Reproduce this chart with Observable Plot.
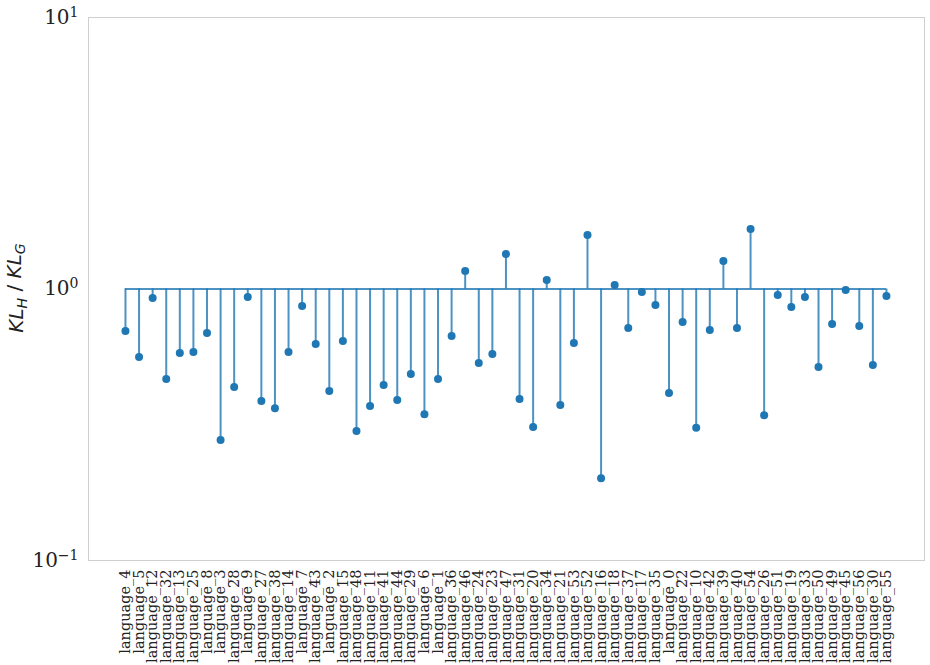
<!DOCTYPE html>
<html>
<head>
<meta charset="utf-8">
<script src="https://cdn.jsdelivr.net/npm/d3@7"></script>
<script src="https://cdn.jsdelivr.net/npm/@observablehq/plot@0.6"></script>
<style>
  body { margin: 0; background: #fff; }
  #chart { width: 930px; height: 665px; }
</style>
</head>
<body>
<div id="chart"></div>
<script>
const languages = [
  "language_4","language_5","language_12","language_32","language_13","language_25","language_8","language_3",
  "language_28","language_9","language_27","language_38","language_14","language_7","language_43","language_2",
  "language_15","language_48","language_11","language_41","language_44","language_29","language_6","language_1",
  "language_36","language_46","language_24","language_23","language_47","language_31","language_20","language_34",
  "language_21","language_53","language_52","language_16","language_18","language_37","language_17","language_35",
  "language_0","language_22","language_10","language_42","language_39","language_40","language_54","language_26",
  "language_51","language_19","language_33","language_50","language_49","language_45","language_56","language_30",
  "language_55"
];
const ratios = [
  0.700, 0.562, 0.927, 0.466, 0.581, 0.586, 0.689, 0.278,
  0.436, 0.934, 0.387, 0.364, 0.586, 0.866, 0.627, 0.421,
  0.643, 0.300, 0.371, 0.443, 0.390, 0.486, 0.346, 0.466,
  0.671, 1.165, 0.534, 0.576, 1.345, 0.393, 0.310, 1.079,
  0.374, 0.633, 1.580, 0.201, 1.034, 0.718, 0.975, 0.873,
  0.414, 0.756, 0.308, 0.706, 1.268, 0.718, 1.664, 0.343,
  0.950, 0.859, 0.934, 0.516, 0.743, 0.992, 0.731, 0.525,
  0.942
];
const yTickExponents = [-1, 0, 1];
const baselineValue = 1;

const data = languages.map((name, i) => ({ i, name, v: ratios[i] }));
const idx = data.map(d => d.i);

const svg = Plot.plot({
  width: 930,
  height: 665,
  marginLeft: 88,
  marginRight: 6,
  marginTop: 17,
  marginBottom: 105,
  style: { background: "#fff" },
  x: { type: "linear", domain: [-2.72, 58.8] },
  y: { type: "log", domain: [0.1, 10] },
  marks: [
    Plot.frame({ stroke: "#cfcfcf", strokeWidth: 1 }),
    Plot.ruleX(data, { x: "i", y1: baselineValue, y2: "v", stroke: "#1f77b4", strokeOpacity: 0.8, strokeWidth: 2 }),
    Plot.ruleY([baselineValue], { x1: 0, x2: languages.length - 1, stroke: "#1f77b4", strokeOpacity: 0.8, strokeWidth: 2 }),
    Plot.dot(data, { x: "i", y: "v", r: 4, fill: "#1f77b4", stroke: "none" }),
    Plot.axisX({
      ticks: idx,
      tickFormat: i => languages[i],
      tickRotate: -90,
      tickSize: 0,
      tickPadding: 9,
      fontSize: 14.5,
      fontFamily: "DejaVu Serif",
      fill: "#222",
      label: null
    }),
    Plot.axisY({
      ticks: yTickExponents.map(e => Math.pow(10, e)),
      tickFormat: d => String(Math.round(Math.log10(d))),
      tickSize: 0,
      tickPadding: 10,
      fontSize: 20,
      fontFamily: "DejaVu Serif",
      fill: "#222",
      label: null
    })
  ]
});

// Render tick labels as 10 with superscript exponent
d3.select(svg).selectAll('g[aria-label="y-axis tick label"] text').each(function() {
  const e = this.textContent;
  const t = d3.select(this);
  t.text(null);
  t.append("tspan").text("10");
  t.append("tspan").attr("dy", "-7").attr("font-size", "14px").text(e.replace("-", "\u2212"));
});

// y-axis label: KL_H / KL_G
const lab = d3.select(svg).append("text")
  .attr("transform", "translate(23,288) rotate(-90)")
  .attr("text-anchor", "middle")
  .attr("font-family", "DejaVu Sans")
  .attr("font-size", 20)
  .attr("fill", "#222");
lab.append("tspan").attr("font-style", "italic").text("KL");
lab.append("tspan").attr("font-style", "italic").attr("font-size", 14).attr("dy", "0.3em").text("H");
lab.append("tspan").attr("dy", "-0.3em").text(" / ");
lab.append("tspan").attr("font-style", "italic").text("KL");
lab.append("tspan").attr("font-style", "italic").attr("font-size", 14).attr("dy", "0.3em").text("G");

document.getElementById("chart").appendChild(svg);
</script>
</body>
</html>
